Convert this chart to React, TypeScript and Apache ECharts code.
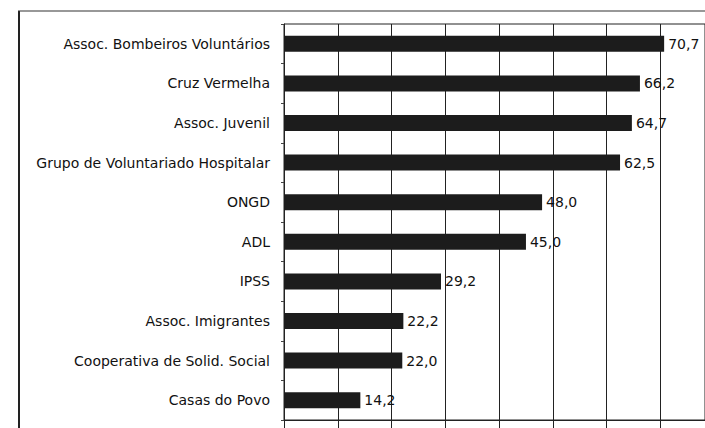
import React, { useEffect, useRef } from "react";
import * as echarts from "echarts";

const categories = [
  "Assoc. Bombeiros Voluntários",
  "Cruz Vermelha",
  "Assoc. Juvenil",
  "Grupo de Voluntariado Hospitalar",
  "ONGD",
  "ADL",
  "IPSS",
  "Assoc. Imigrantes",
  "Cooperativa de Solid. Social",
  "Casas do Povo",
];
const values = [70.7, 66.2, 64.7, 62.5, 48.0, 45.0, 29.2, 22.2, 22.0, 14.2];
const axisMax = 78.3; // visible part of the 0–80 scale (right edge cropped)

export default function App() {
  const ref = useRef<HTMLDivElement>(null);
  useEffect(() => {
    document.body.style.margin = "0";
    const chart = echarts.init(ref.current!, null, { renderer: "svg" });
    const font = "'DejaVu Sans', Verdana, sans-serif";
    chart.setOption({
      animation: false,
      backgroundColor: "#ffffff",
      grid: {
        left: 284,
        top: 24,
        right: 0,
        height: 396,
        show: true,
        borderColor: "#222",
        borderWidth: 1,
        containLabel: false,
      },
      xAxis: {
        type: "value",
        min: 0,
        max: axisMax,
        interval: 10,
        axisLabel: { show: false },
        axisLine: { show: true, lineStyle: { color: "#222", width: 1 } },
        axisTick: { show: true, length: 8, lineStyle: { color: "#222" } },
        splitLine: { show: true, lineStyle: { color: "#222", width: 1 } },
      },
      yAxis: {
        type: "category",
        data: categories,
        inverse: true,
        axisLine: { show: true, lineStyle: { color: "#222", width: 1 } },
        axisTick: { show: true, length: 3, lineStyle: { color: "#444" } },
        axisLabel: {
          color: "#111",
          fontSize: 14,
          fontFamily: font,
          margin: 14,
        },
      },
      series: [
        {
          type: "bar",
          data: values,
          barWidth: 16,
          itemStyle: { color: "#1c1c1c" },
          label: {
            show: true,
            position: "right",
            distance: 4,
            color: "#111",
            fontSize: 14,
            fontFamily: font,
            formatter: (p: any) => p.value.toFixed(1).replace(".", ","),
          },
        },
      ],
      graphic: [
        {
          type: "line",
          shape: { x1: 19, y1: 11, x2: 19, y2: 428 },
          style: { stroke: "#222", lineWidth: 2 },
        },
        {
          type: "line",
          shape: { x1: 18, y1: 11, x2: 705, y2: 11 },
          style: { stroke: "#333", lineWidth: 1.2 },
        },
      ],
    });
    return () => chart.dispose();
  }, []);
  return <div ref={ref} style={{ width: 705, height: 428 }} />;
}
